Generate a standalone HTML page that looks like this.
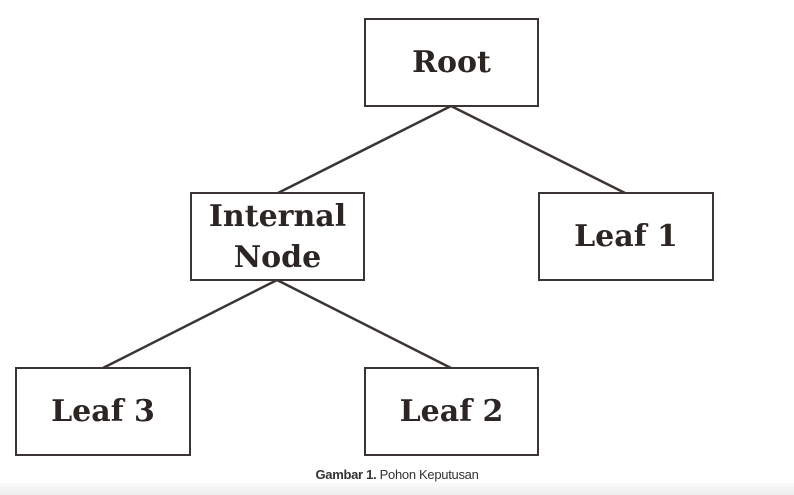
<!DOCTYPE html>
<html><head><meta charset="utf-8"><style>
html,body{margin:0;padding:0;background:#fff;}
body{width:794px;height:495px;position:relative;overflow:hidden;}
.b{position:absolute;box-sizing:border-box;border:2px solid #3a3432;background:#fff;display:flex;align-items:center;justify-content:center;text-align:center;font-family:"DejaVu Serif",serif;font-weight:bold;font-size:30px;line-height:41px;color:#2b2523;}
.cap{position:absolute;left:0;width:794px;top:467px;text-align:center;font-family:"Liberation Sans",sans-serif;font-size:13px;color:#333;letter-spacing:-0.3px}
.foot{position:absolute;left:0;top:483px;width:794px;height:12px;background:linear-gradient(#fafafa,#eeeeee);}
</style></head><body>
<svg width="794" height="495" style="position:absolute;left:0;top:0">
<g stroke="#3a3432" stroke-width="2.5" fill="none">
<line x1="451" y1="106" x2="278" y2="193"/>
<line x1="451" y1="106" x2="625" y2="193"/>
<line x1="277" y1="280" x2="103" y2="368"/>
<line x1="277" y1="280" x2="451" y2="368"/>
</g></svg>
<div class="b" style="left:364px;top:18px;width:175px;height:89px">Root</div>
<div class="b" style="left:190px;top:192px;width:175px;height:89px">Internal<br>Node</div>
<div class="b" style="left:538px;top:192px;width:176px;height:89px">Leaf 1</div>
<div class="b" style="left:15px;top:367px;width:176px;height:89px">Leaf 3</div>
<div class="b" style="left:364px;top:367px;width:175px;height:89px">Leaf 2</div>
<div class="cap"><b>Gambar 1.</b> Pohon Keputusan</div>
<div class="foot"></div>
</body></html>
